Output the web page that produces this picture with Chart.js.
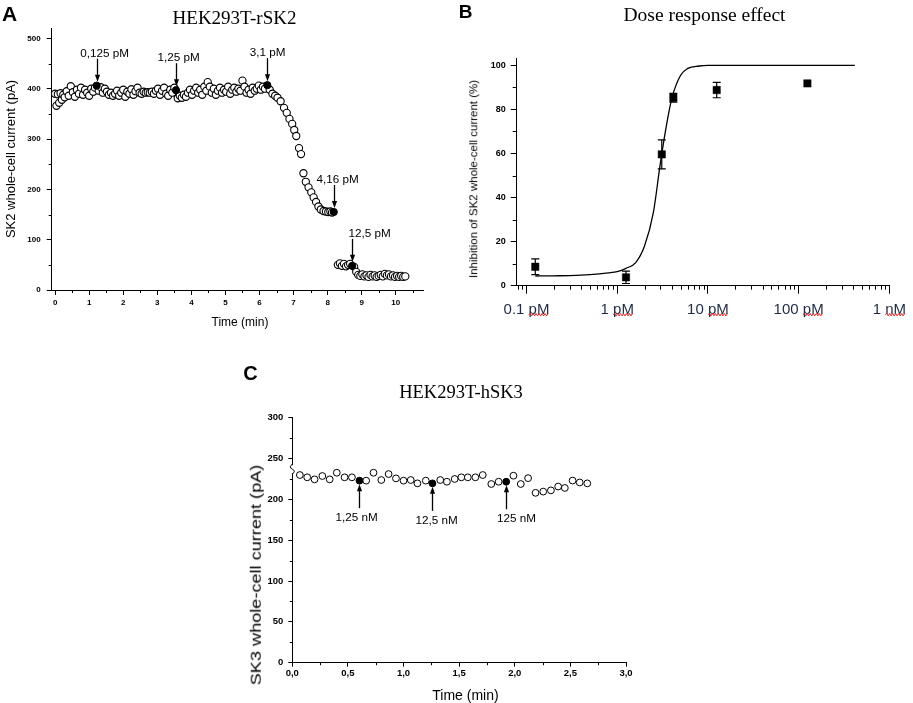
<!DOCTYPE html>
<html>
<head>
<meta charset="utf-8">
<script src="https://cdn.jsdelivr.net/npm/chart.js@4.4.0/dist/chart.umd.min.js"></script>
<style>
  body { margin: 0; background: #fff; }
  #fig { position: relative; width: 913px; height: 703px; overflow: hidden; background: #fff;
         font-family: 'Liberation Sans', Arial, sans-serif; }
  canvas { position: absolute; }
  .t { position: absolute; transform: translate(-50%, -50%); white-space: nowrap; line-height: 1; color: #000; font-weight: normal; }
  .v { transform: translate(-50%, -50%) rotate(-90deg); }
  .serif { font-family: 'Liberation Serif', 'Times New Roman', serif; }
  .letter { font-weight: bold; }
</style>
</head>
<body>
<div id="fig">
  <canvas id="chartA" width="455" height="335" style="left:0;top:0"></canvas>
  <canvas id="chartB" width="453" height="330" style="left:460px;top:0"></canvas>
  <canvas id="chartC" width="420" height="363" style="left:230px;top:340px"></canvas>

  <div class="t letter" style="left:9.5px;top:12.5px;font-size:21px">A</div>
  <div class="t letter" style="left:465.5px;top:10.7px;font-size:19px">B</div>
  <div class="t letter" style="left:250.5px;top:373.3px;font-size:20px">C</div>

  <div class="t serif" style="left:234.5px;top:16.7px;font-size:19px">HEK293T-rSK2</div>
  <div class="t serif" style="left:704.5px;top:14.5px;font-size:19.5px">Dose response effect</div>
  <div class="t serif" style="left:461px;top:391.7px;font-size:18.5px">HEK293T-hSK3</div>

  <div class="t v" style="left:10px;top:158.5px;font-size:13px">SK2 whole-cell current (pA)</div>
  <div class="t" style="left:240px;top:321.7px;font-size:12px">Time (min)</div>
  <div class="t v" style="left:474px;top:178.5px;font-size:11.5px">Inhibition of SK2 whole-cell current (%)</div>
  <div class="t" style="left:255.8px;top:575px;font-size:14.5px;transform:translate(-50%,-50%) rotate(-90deg) scaleX(1.25)">SK3 whole-cell current (pA)</div>
  <div class="t" style="left:465.5px;top:695px;font-size:14px">Time (min)</div>
</div>

<script>
// ---- Panel A: HEK293T-rSK2 time course ----
const aTime = [0.00, 0.04, 0.08, 0.12, 0.16, 0.20, 0.24, 0.28, 0.34, 0.40, 0.46, 0.52, 0.58, 0.64, 0.70, 0.76,
  0.82, 0.88, 0.94, 1.00, 1.06, 1.12, 1.17, 1.28, 1.34, 1.40, 1.46, 1.52, 1.58, 1.64, 1.70, 1.76, 1.82, 1.88,
  1.94, 2.00, 2.06, 2.12, 2.18, 2.24, 2.30, 2.36, 2.42, 2.48, 2.54, 2.60, 2.66, 2.72, 2.78, 2.84, 2.90, 2.96,
  3.02, 3.08, 3.14, 3.20, 3.26, 3.32, 3.38, 3.44, 3.50, 3.60, 3.66, 3.72, 3.78, 3.84, 3.90, 3.96, 4.02, 4.08,
  4.14, 4.20, 4.26, 4.32, 4.38, 4.44, 4.48, 4.54, 4.60, 4.66, 4.72, 4.78, 4.84, 4.90, 4.96, 5.02, 5.08, 5.14,
  5.20, 5.26, 5.32, 5.38, 5.44, 5.50, 5.56, 5.62, 5.68, 5.74, 5.80, 5.86, 5.92, 5.98, 6.04, 6.10, 6.16,
  6.30, 6.38, 6.46, 6.53, 6.62, 6.72, 6.80, 6.88, 6.96, 7.02, 7.08, 7.16, 7.22, 7.29, 7.36, 7.44, 7.52, 7.59,
  7.66, 7.73, 7.80, 7.88, 7.95, 8.02, 8.08, 8.13, 8.30, 8.36, 8.42, 8.48, 8.54, 8.60, 8.66, 8.78, 8.84, 8.90,
  8.96, 9.02, 9.08, 9.14, 9.20, 9.26, 9.32, 9.38, 9.44, 9.50, 9.56, 9.62, 9.68, 9.74, 9.80, 9.86, 9.92, 9.98,
  10.04, 10.10, 10.16, 10.22, 10.28];
const aCurrent = [390, 366, 389, 372, 391, 378, 388, 383, 395, 386, 405, 393, 384, 398, 390, 402,
  388, 398, 392, 386, 400, 394, 402, 396, 403, 392, 400, 394, 388, 392, 386, 390, 396, 386,
  392, 398, 384, 394, 390, 399, 388, 395, 402, 392, 390, 394, 392, 393, 392, 394, 390, 396,
  400, 388, 396, 402, 390, 386, 398, 392, 402, 381, 386, 382, 388, 384, 392, 398, 388, 396,
  402, 392, 398, 388, 404, 396, 413, 404, 392, 400, 388, 396, 402, 392, 398, 394, 404, 390,
  398, 402, 394, 400, 396, 416, 404, 392, 398, 390, 402, 396, 400, 406, 398, 404, 400,
  398, 390, 386, 382, 375, 362, 352, 340, 330, 318, 306, 282, 270, 232, 215, 204, 194, 184,
  175, 166, 160, 157, 156, 155, 156, 154, 50, 53, 48, 52, 47, 50, 52, 46, 36, 30,
  28, 31, 27, 29, 26, 30, 27, 29, 26, 28, 30, 27, 32, 29, 31, 27, 29, 26,
  28, 26, 28, 26, 27];
const aAddTime = [1.22, 3.55, 6.23, 8.18, 8.72];
const aAddCurrent = [406, 397, 407, 155, 48];
const aAddLabel = ['0,125 pM', '1,25 pM', '3,1 pM', '4,16 pM', '12,5 pM'];
const aXTicks = [0, 1, 2, 3, 4, 5, 6, 7, 8, 9, 10];
const aXLabels = ['0', '1', '2', '3', '4', '5', '6', '7', '8', '9', '10'];
const aXMinor = [0.5, 1.5, 2.5, 3.5, 4.5, 5.5, 6.5, 7.5, 8.5, 9.5, 10.5];
const aYTicks = [0, 100, 200, 300, 400, 500];
const aYLabels = ['0', '100', '200', '300', '400', '500'];
const aYMinor = [50, 150, 250, 350, 450];

// ---- Panel B: dose response ----
const bDose = [0.125, 1.25, 3.1, 4.16, 12.5, 125];          // pM
const bInhib = [8.6, 3.8, 59.6, 85.3, 88.8, 91.8];          // %
const bErr = [3.6, 2.8, 6.6, 2.0, 3.5, 0];
const bFitDose = [0.125, 0.2, 0.3, 0.5, 0.8, 1.0, 1.25, 1.6, 2.0, 2.5, 3.0, 3.5, 4.0, 5.0, 6.0, 8.0, 10, 417];
const bFitInhib = [4.4, 4.5, 4.6, 5.0, 5.8, 6.4, 7.9, 10.5, 18, 33, 56, 73, 85, 95.5, 98.6, 99.7, 100, 100];
const bXTicks = [0.1, 1, 10, 100, 1000];
const bXLabels = ['0.1 pM', '1 pM', '10 pM', '100 pM', '1 nM'];
const bXMinor = [0.08, 0.09, 0.2, 0.3, 0.4, 0.5, 0.6, 0.7, 0.8, 0.9, 2, 3, 4, 5, 6, 7, 8, 9,
  20, 30, 40, 50, 60, 70, 80, 90, 200, 300, 400, 500, 600, 700, 800, 900];
const bYTicks = [0, 20, 40, 60, 80, 100];
const bYLabels = ['0', '20', '40', '60', '80', '100'];
const bYMinor = [10, 30, 50, 70, 90];

// ---- Panel C: HEK293T-hSK3 time course ----
const cTime = [0.068, 0.134, 0.200, 0.270, 0.336, 0.400, 0.470, 0.536, 0.664, 0.730, 0.800, 0.866, 0.932,
  1.000, 1.065, 1.125, 1.200, 1.330, 1.390, 1.460, 1.520, 1.578, 1.646, 1.712, 1.789, 1.855, 1.988, 2.054,
  2.120, 2.187, 2.256, 2.325, 2.390, 2.450, 2.520, 2.584, 2.652];
const cCurrent = [229.8, 227, 224.5, 228.6, 224.5, 232.6, 227, 227, 222.9, 232.6, 223.7, 231, 225.7,
  222.9, 223.7, 219.6, 222.9, 223.7, 221.6, 225, 227, 227, 227, 229.8, 218.8, 221.6, 229, 218.8,
  226, 208, 209.5, 211, 215.7, 214, 223, 220.7, 219.6];
const cAddTime = [0.604, 1.26, 1.923];
const cAddCurrent = [222.9, 219.6, 221.6];
const cAddLabel = ['1,25 nM', '12,5 nM', '125 nM'];
const cXTicks = [0, 0.5, 1, 1.5, 2, 2.5, 3];
const cXLabels = ['0,0', '0,5', '1,0', '1,5', '2,0', '2,5', '3,0'];
const cXMinor = [0.25, 0.75, 1.25, 1.75, 2.25, 2.75];
const cYTicks = [0, 50, 100, 150, 200, 250, 300];
const cYLabels = ['0', '50', '100', '150', '200', '250', '300'];
const cYMinor = [25, 75, 125, 175, 225, 275];

const SANS = "'Liberation Sans', Arial, sans-serif";
Chart.defaults.font.family = SANS;
Chart.defaults.color = '#000';
Chart.defaults.animation = false;
Chart.defaults.plugins.legend.display = false;
Chart.defaults.plugins.tooltip.enabled = false;

// minor ticks, error bars, arrows with labels, spell-check squiggles, axis break
const extras = {
  id: 'extras',
  afterDatasetsDraw(chart, args, opts) {
    const ctx = chart.ctx;
    const xs = chart.scales.x, ys = chart.scales.y;
    ctx.save();
    ctx.strokeStyle = '#000';
    ctx.fillStyle = '#000';
    ctx.lineWidth = 1;

    (opts.minorX || []).forEach(v => {
      const px = Math.round(xs.getPixelForValue(v)) + 0.5;
      ctx.beginPath(); ctx.moveTo(px, xs.top); ctx.lineTo(px, xs.top + opts.minorLen); ctx.stroke();
    });
    (opts.minorY || []).forEach(v => {
      const py = Math.round(ys.getPixelForValue(v)) + 0.5;
      ctx.beginPath(); ctx.moveTo(ys.right, py); ctx.lineTo(ys.right - opts.minorLen, py); ctx.stroke();
    });

    if (opts.errors) {
      const e = opts.errors;
      ctx.lineWidth = 1.2;
      e.x.forEach((d, i) => {
        if (!e.e[i]) return;
        const px = xs.getPixelForValue(d);
        const top = ys.getPixelForValue(e.y[i] + e.e[i]);
        const bot = ys.getPixelForValue(e.y[i] - e.e[i]);
        ctx.beginPath();
        ctx.moveTo(px, top); ctx.lineTo(px, bot);
        ctx.moveTo(px - e.cap, top); ctx.lineTo(px + e.cap, top);
        ctx.moveTo(px - e.cap, bot); ctx.lineTo(px + e.cap, bot);
        ctx.stroke();
      });
    }

    if (opts.arrows) {
      const a = opts.arrows;
      ctx.lineWidth = 1.3;
      ctx.font = a.font;
      ctx.textAlign = 'center';
      ctx.textBaseline = 'middle';
      a.times.forEach((t, i) => {
        const px = Math.round(xs.getPixelForValue(t)) + 0.5;
        const py = ys.getPixelForValue(a.values[i]);
        const tip = py + a.dir * a.gap;
        const tail = tip + a.dir * a.len;
        // shaft, then a filled head whose point touches the marker
        ctx.beginPath(); ctx.moveTo(px, tail); ctx.lineTo(px, tip + a.dir * 4); ctx.stroke();
        ctx.beginPath();
        ctx.moveTo(px, tip);
        ctx.lineTo(px - 2.6, tip + a.dir * 7);
        ctx.lineTo(px + 2.6, tip + a.dir * 7);
        ctx.closePath(); ctx.fill();
        ctx.fillText(a.labels[i], px + a.dx[i], tail + a.dir * a.labelGap);
      });
    }

    if (opts.yBreak) {
      const b = opts.yBreak;
      const ax = ys.right;
      const yc = ys.getPixelForValue(b.value);
      ctx.fillStyle = '#fff';
      ctx.fillRect(ax - 2, yc - b.half, 4, b.half * 2);
      ctx.lineWidth = 1;
      ctx.beginPath();
      ctx.moveTo(ax, yc - b.half - 1);
      ctx.quadraticCurveTo(ax - 4, yc - b.half + 2, ax, yc);
      ctx.quadraticCurveTo(ax + 4, yc + b.half - 2, ax, yc + b.half + 1);
      ctx.stroke();
    }
    ctx.restore();
  },
  afterDraw(chart, args, opts) {
    if (!opts.wavy) return;
    const w = opts.wavy;
    const ctx = chart.ctx;
    const xs = chart.scales.x;
    ctx.save();
    ctx.font = w.font;
    ctx.strokeStyle = w.color;
    ctx.lineWidth = 1;
    w.values.forEach((v, i) => {
      const label = w.labels[i];
      const unit = label.split(' ').pop();
      const full = ctx.measureText(label).width;
      const uw = ctx.measureText(unit).width;
      const cx = xs.getPixelForValue(v);
      const x2 = cx + full / 2, x1 = x2 - uw;
      const y = xs.top + w.offsetY;
      ctx.beginPath();
      let up = true;
      ctx.moveTo(x1, y);
      for (let x = x1 + 1.5; x <= x2 + 0.1; x += 1.5) {
        ctx.lineTo(x, y + (up ? -1.2 : 1.2));
        up = !up;
      }
      ctx.stroke();
    });
    ctx.restore();
  }
};
Chart.register(extras);

function axis(o) {
  return {
    type: o.type || 'linear',
    position: o.position,
    min: o.min,
    max: o.max,
    afterFit(s) {
      if (o.width) s.width = o.width;
      if (o.height) s.height = o.height;
    },
    afterBuildTicks(s) { s.ticks = o.ticks.map(v => ({ value: v })); },
    grid: { drawOnChartArea: false, drawTicks: true, tickLength: o.tick, color: '#000', lineWidth: 1 },
    border: { display: true, color: '#000', width: 1 },
    ticks: {
      padding: o.pad, font: o.font, color: o.color || '#000', maxRotation: 0, autoSkip: false,
      callback: (v) => { const i = o.ticks.indexOf(v); return i >= 0 ? o.labels[i] : ''; }
    }
  };
}

const pts = (xs, ys) => xs.map((x, i) => ({ x: x, y: ys[i] }));

// Panel A
new Chart(document.getElementById('chartA'), {
  type: 'scatter',
  data: {
    datasets: [
      { data: pts(aAddTime, aAddCurrent), pointRadius: 3.6, pointBackgroundColor: '#000',
        pointBorderColor: '#000', pointBorderWidth: 1 },
      { data: pts(aTime, aCurrent), pointRadius: 3.6, pointBackgroundColor: '#fff',
        pointBorderColor: '#000', pointBorderWidth: 1.1 }
    ]
  },
  options: {
    responsive: false,
    layout: { padding: { left: 0, top: 28.3, right: 32, bottom: 0 } },
    scales: {
      x: axis({ position: 'bottom', min: -0.1, max: 10.8, height: 45, ticks: aXTicks, labels: aXLabels,
        tick: 5, pad: 3, font: { size: 8, weight: 'bold' } }),
      y: axis({ position: 'left', min: 0, max: 520, width: 51.7, ticks: aYTicks, labels: aYLabels,
        tick: 5, pad: 6, font: { size: 8, weight: 'bold' } })
    },
    plugins: {
      extras: {
        minorX: aXMinor, minorY: aYMinor, minorLen: 3,
        arrows: { times: aAddTime, values: aAddCurrent, labels: aAddLabel, dir: -1, gap: 4, len: 23,
          labelGap: 5, dx: [7, 2, 0, 3, 17], font: '11.7px ' + SANS }
      }
    }
  }
});

// Panel B
new Chart(document.getElementById('chartB'), {
  type: 'scatter',
  data: {
    datasets: [
      { data: pts(bDose, bInhib), pointStyle: 'rect', pointRadius: 5.2, pointBackgroundColor: '#000',
        pointBorderColor: '#000', pointBorderWidth: 0.5 },
      { type: 'line', data: pts(bFitDose, bFitInhib), borderColor: '#000', borderWidth: 1.3,
        pointRadius: 0, cubicInterpolationMode: 'monotone', fill: false, showLine: true }
    ]
  },
  options: {
    responsive: false,
    layout: { padding: { left: 0, top: 58.3, right: 18, bottom: 0 } },
    scales: {
      x: axis({ type: 'logarithmic', position: 'bottom', min: 0.078, max: 1000, height: 44.3,
        ticks: bXTicks, labels: bXLabels, tick: 8, pad: 7, font: { size: 15 }, color: '#1e2a44' }),
      y: axis({ position: 'left', min: 0, max: 103.2, width: 56.7, ticks: bYTicks, labels: bYLabels,
        tick: 6, pad: 5, font: { size: 9, weight: 'bold' } })
    },
    plugins: {
      extras: {
        minorX: bXMinor, minorY: bYMinor, minorLen: 4,
        errors: { x: bDose, y: bInhib, e: bErr, cap: 4 },
        wavy: { values: bXTicks, labels: bXLabels, font: '15px ' + SANS, color: '#e02020', offsetY: 29 }
      }
    }
  }
});

// Panel C
new Chart(document.getElementById('chartC'), {
  type: 'scatter',
  data: {
    datasets: [
      { data: pts(cAddTime, cAddCurrent), pointRadius: 3.4, pointBackgroundColor: '#000',
        pointBorderColor: '#000', pointBorderWidth: 1 },
      { data: pts(cTime, cCurrent), pointRadius: 3.4, pointBackgroundColor: '#fff',
        pointBorderColor: '#000', pointBorderWidth: 1 }
    ]
  },
  options: {
    responsive: false,
    layout: { padding: { left: 0, top: 77.7, right: 24, bottom: 0 } },
    scales: {
      x: axis({ position: 'bottom', min: 0, max: 3, height: 40.3, ticks: cXTicks, labels: cXLabels,
        tick: 4, pad: 1, font: { size: 9.5, weight: 'bold' } }),
      y: axis({ position: 'left', min: 0, max: 300, width: 62.3, ticks: cYTicks, labels: cYLabels,
        tick: 4, pad: 5, font: { size: 9.5, weight: 'bold' } })
    },
    plugins: {
      extras: {
        minorX: cXMinor, minorY: cYMinor, minorLen: 2.5,
        arrows: { times: cAddTime, values: cAddCurrent, labels: cAddLabel, dir: 1, gap: 3.5, len: 24,
          labelGap: 10, dx: [-3, 4, 10], font: '11.7px ' + SANS },
        yBreak: { value: 237, half: 4 }
      }
    }
  }
});
</script>
</body>
</html>
